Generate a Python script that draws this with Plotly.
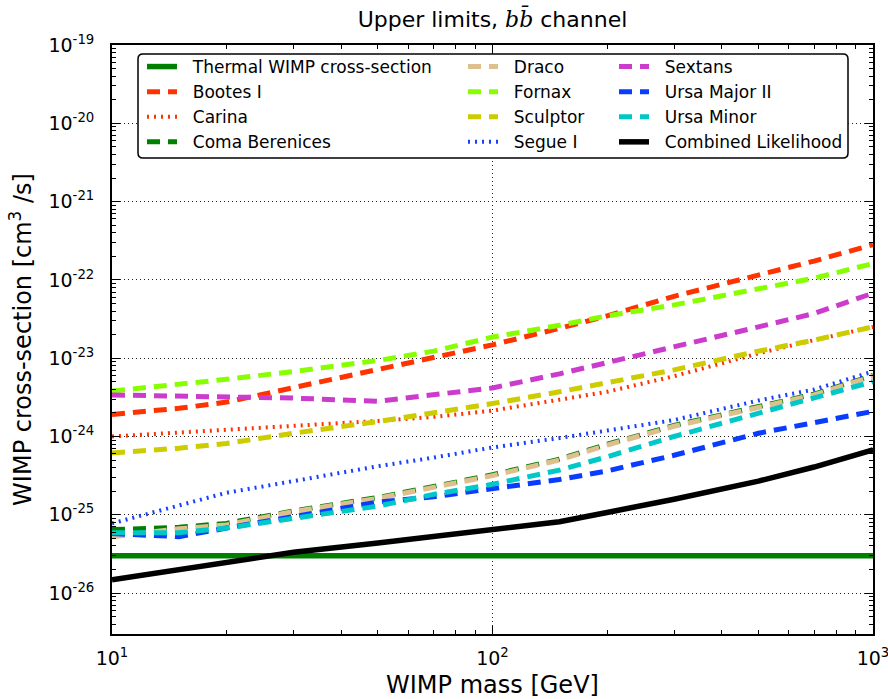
import plotly.graph_objects as go

# WIMP masses (GeV) at which the limits are evaluated
mass = [10, 15, 20, 30, 50, 70, 100, 150, 200, 300, 500, 700, 1000]

# Thermal relic cross-section (cm^3/s)
thermal_xsec = 3e-26

# 95% upper limits on <sigma v> (cm^3/s), b-bbar channel
bootes_i = [1.91e-24, 2.29e-24, 2.75e-24, 4.17e-24, 7.08e-24, 1.02e-23, 1.48e-23,
            2.40e-23, 3.47e-23, 6.17e-23, 1.15e-22, 1.74e-22, 2.82e-22]
carina = [1.00e-24, 1.12e-24, 1.23e-24, 1.38e-24, 1.58e-24, 1.78e-24, 2.14e-24,
          2.95e-24, 3.72e-24, 5.89e-24, 1.15e-23, 1.70e-23, 2.51e-23]
coma_berenices = [6.46e-26, 6.92e-26, 7.76e-26, 1.12e-25, 1.66e-25, 2.29e-25, 3.24e-25,
                  5.13e-25, 7.94e-25, 1.38e-24, 2.45e-24, 3.47e-24, 6.03e-24]
draco = [5.25e-26, 6.61e-26, 7.41e-26, 1.10e-25, 1.62e-25, 2.24e-25, 3.16e-25,
         5.01e-25, 7.76e-25, 1.35e-24, 2.40e-24, 3.39e-24, 5.89e-24]
fornax = [3.80e-24, 4.57e-24, 5.37e-24, 6.76e-24, 9.33e-24, 1.23e-23, 1.86e-23,
          2.63e-23, 3.47e-23, 4.79e-23, 7.59e-23, 1.05e-22, 1.62e-22]
sculptor = [6.17e-25, 7.08e-25, 8.13e-25, 1.10e-24, 1.55e-24, 2.00e-24, 2.63e-24,
            3.72e-24, 4.79e-24, 7.08e-24, 1.23e-23, 1.70e-23, 2.51e-23]
segue_i = [7.76e-26, 1.32e-25, 1.91e-25, 2.69e-25, 4.17e-25, 5.37e-25, 7.24e-25,
           9.55e-25, 1.20e-24, 1.62e-24, 2.88e-24, 3.98e-24, 6.76e-24]
sextans = [3.39e-24, 3.31e-24, 3.24e-24, 3.09e-24, 2.82e-24, 3.39e-24, 4.17e-24,
           6.31e-24, 8.71e-24, 1.41e-23, 2.51e-23, 3.72e-23, 6.76e-23]
ursa_major_ii = [5.75e-26, 5.25e-26, 6.76e-26, 9.55e-26, 1.45e-25, 1.70e-25, 2.14e-25,
                 2.82e-25, 3.63e-25, 5.75e-25, 1.10e-24, 1.48e-24, 2.09e-24]
ursa_minor = [5.89e-26, 5.89e-26, 6.76e-26, 8.91e-26, 1.29e-25, 1.82e-25, 2.45e-25,
              3.72e-25, 5.50e-25, 1.00e-24, 2.00e-24, 3.09e-24, 5.01e-24]
combined = [1.48e-26, 2.00e-26, 2.45e-26, 3.31e-26, 4.37e-26, 5.25e-26, 6.30e-26,
            8.13e-26, 1.07e-25, 1.58e-25, 2.69e-25, 4.07e-25, 6.76e-25]

# Axis tick labels
x_tickvals = [10, 100, 1000]
x_ticktext = ["10<sup>1</sup>", "10<sup>2</sup>", "10<sup>3</sup>"]
y_exponents = [-26, -25, -24, -23, -22, -21, -20, -19]
y_tickvals = [10.0 ** e for e in y_exponents]
y_ticktext = ["10<sup>%d</sup>" % e for e in y_exponents]

FONT = "DejaVu Sans"
DASH = "13px,8px"
DOT = "2px,5px"
PAD = "\u00a0\u00a0"  # gap between legend sample and label

# (name, y values, colour, dash, width, legend)
series = [
    ("Thermal WIMP cross-section", [thermal_xsec] * len(mass), "#008000", "solid", 5.5, "legend"),
    ("Bootes I", bootes_i, "#ff3300", DASH, 5, "legend"),
    ("Carina", carina, "#ff3300", DOT, 4, "legend"),
    ("Coma Berenices", coma_berenices, "#008000", DASH, 5, "legend"),
    ("Draco", draco, "#dec08f", DASH, 5, "legend2"),
    ("Fornax", fornax, "#88ff00", DASH, 5, "legend2"),
    ("Sculptor", sculptor, "#cccc00", DASH, 5, "legend2"),
    ("Segue I", segue_i, "#1a40ff", DOT, 4, "legend2"),
    ("Sextans", sextans, "#cc3ccc", DASH, 5, "legend3"),
    ("Ursa Major II", ursa_major_ii, "#0a3cff", DASH, 5, "legend3"),
    ("Ursa Minor", ursa_minor, "#00c8c8", DASH, 5, "legend3"),
    ("Combined Likelihood", combined, "#000000", "solid", 5.5, "legend3"),
]

fig = go.Figure()
for name, ys, color, dash, width, leg in series:
    fig.add_trace(go.Scatter(
        x=mass, y=ys, mode="lines", name=PAD + name, legend=leg,
        line=dict(color=color, dash=dash, width=width),
    ))

# Plot-area geometry in pixels (used to place legends / frame in paper units)
W, H = 888, 699
L, R, T, B = 112, 15, 45, 65
PW, PH = W - L - R, H - T - B


def px_x(px):
    return (px - L) / PW


def px_y(py):
    return (H - B - py) / PH


minor_x = [m * 10 ** d for d in (1, 2) for m in range(2, 10)]
minor_y = [m * 10.0 ** e for e in range(-27, -19) for m in range(2, 10)]

axis_common = dict(
    showline=True, linecolor="black", linewidth=1.8, mirror="allticks",
    ticks="inside", ticklen=8, tickwidth=1, tickcolor="black",
    showgrid=True, gridcolor="#222222", gridwidth=1, griddash="1px,3px",
    zeroline=False, tickfont=dict(family=FONT, size=19, color="black"),
    ticklabeloverflow="allow", automargin=False,
)

fig.update_xaxes(
    type="log", range=[1, 3], tickmode="array",
    tickvals=x_tickvals, ticktext=x_ticktext,
    minor=dict(tickvals=minor_x, ticks="inside", ticklen=4, tickcolor="black", showgrid=False),
    title=dict(text="WIMP mass [GeV]", font=dict(family=FONT, size=24, color="black"), standoff=10),
    ticklabelstandoff=6,
    **axis_common,
)
fig.update_yaxes(
    type="log", range=[-26.523, -19], tickmode="array",
    tickvals=y_tickvals, ticktext=y_ticktext,
    minor=dict(tickvals=minor_y, ticks="inside", ticklen=4, tickcolor="black", showgrid=False),
    title=dict(text="WIMP cross-section [cm<sup>3</sup> /s]",
               font=dict(family=FONT, size=24, color="black"), standoff=10),
    ticklabelstandoff=12,
    **axis_common,
)

# Legend frame: white, rounded corners
x0, x1 = px_x(138), px_x(848)
y0, y1 = px_y(158), px_y(54)
rx, ry = 5 / PW, 5 / PH
frame = (f"M{x0 + rx},{y0} L{x1 - rx},{y0} Q{x1},{y0} {x1},{y0 + ry} "
         f"L{x1},{y1 - ry} Q{x1},{y1} {x1 - rx},{y1} L{x0 + rx},{y1} "
         f"Q{x0},{y1} {x0},{y1 - ry} L{x0},{y0 + ry} Q{x0},{y0} {x0 + rx},{y0} Z")
fig.add_shape(type="path", path=frame, xref="paper", yref="paper",
              line=dict(color="black", width=1.5), fillcolor="white", layer="above")

legend_common = dict(
    xanchor="left", yanchor="top", bgcolor="rgba(0,0,0,0)", borderwidth=0,
    font=dict(family=FONT, size=17, color="black"), itemwidth=30,
    traceorder="normal", itemclick=False,
)

fig.update_layout(
    width=W, height=H,
    margin=dict(l=L, r=R, t=T, b=B),
    paper_bgcolor="white", plot_bgcolor="white",
    font=dict(family=FONT, color="black"),
    title=dict(
        text='Upper limits, <span style="font-family:DejaVu Serif"><i>b</i><i>b\u0304</i></span> channel',
        x=0.5, xref="paper", xanchor="center",
        y=1 - 19 / H, yref="container", yanchor="middle",
        font=dict(family=FONT, size=22, color="black"),
    ),
    legend=dict(x=px_x(142), y=px_y(49), **legend_common),
    legend2=dict(x=px_x(463), y=px_y(49), **legend_common),
    legend3=dict(x=px_x(614), y=px_y(49), **legend_common),
)

fig.write_html("out.html")
